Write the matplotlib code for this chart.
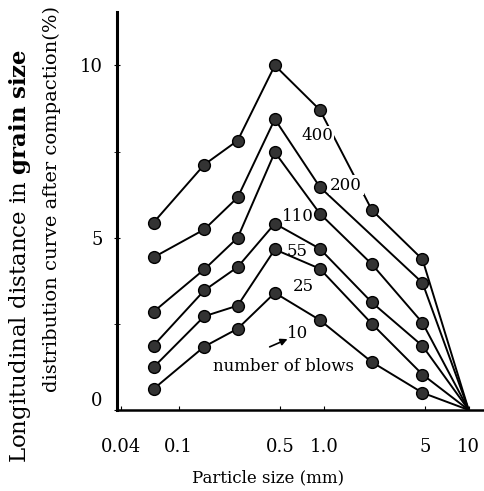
import numpy as np
import matplotlib
matplotlib.use("Agg")
import matplotlib.pyplot as plt

plt.rcParams['font.family'] = ['DejaVu Serif']
plt.rcParams['mathtext.fontset'] = 'custom'
plt.rcParams['mathtext.rm'] = 'DejaVu Serif'
plt.rcParams['mathtext.bf'] = 'DejaVu Serif:bold'

# particle sizes (mm) of the sieve columns
sizes = np.array([0.067, 0.15, 0.255, 0.46, 0.94, 2.15, 4.8, 10.0])

# longitudinal distance (%) for each number of blows
blows_400 = [5.44, 7.12, 7.82, 10.0, 8.71, 5.80, 4.37, 0.0]
blows_200 = [4.43, 5.24, 6.17, 8.44, 6.47, np.nan, 3.69, 0.0]
blows_110 = [2.85, 4.08, 5.00, 7.48, 5.70, 4.23, 2.53, 0.0]
blows_55 = [1.87, 3.47, 4.15, 5.41, 4.68, 3.12, 1.86, 0.0]
blows_25 = [1.24, 2.72, 3.03, 4.66, 4.10, 2.50, 1.03, 0.0]
blows_10 = [0.61, 1.84, 2.36, 3.40, 2.61, 1.39, 0.50, 0.0]

series = [blows_400, blows_200, blows_110, blows_55, blows_25, blows_10]

xticks = [0.04, 0.1, 0.5, 1.0, 5, 10]
xticklabels = ['0.04', '0.1', '0.5', '1.0', '5', '10']

fig = plt.figure(figsize=(4.84, 4.91), dpi=100)
ax = fig.add_axes([117/484, 1 - 410/491, 1 - 117/484, (410 - 12)/491])

for s in series:
    y = np.array(s, dtype=float)
    ok = ~np.isnan(y)
    xs, ys = sizes[ok], y[ok]
    ax.plot(xs, ys, color='black', lw=1.4, zorder=2)
    ax.plot(xs[:-1], ys[:-1], 'o', ms=8.5, mfc='#333333', mec='black',
            mew=1.0, zorder=3)

ax.set_xscale('log')
ax.set_xlim(0.0375, 12.75)
ax.set_ylim(0, 11.55)
ax.set_xticks(xticks)
ax.set_xticklabels(xticklabels)
ax.xaxis.set_minor_locator(matplotlib.ticker.NullLocator())
ax.set_yticks([0, 5, 10])
ax.set_yticks([2.5, 7.5], minor=True)

ax.tick_params(axis='x', direction='in', length=3, pad=20, labelsize=13)
ax.tick_params(axis='y', direction='inout', length=5, pad=8, labelsize=13)
ax.tick_params(axis='y', which='minor', direction='inout', length=4)
ax.get_yticklabels()[0].set_va('bottom')

for side in ['top', 'right']:
    ax.spines[side].set_visible(False)
ax.spines['left'].set_linewidth(2.2)
ax.spines['bottom'].set_linewidth(1.8)

# curve labels
lab = dict(fontsize=12, ha='center', va='center', zorder=4)
ax.text(0.90, 7.97, '400', bbox=dict(fc='white', ec='none', pad=1), **lab)
ax.text(1.43, 6.52, '200', bbox=dict(fc='white', ec='none', pad=1), **lab)
ax.text(0.665, 5.62, '110', **lab)
ax.text(0.655, 4.61, '55', **lab)
ax.text(0.72, 3.57, '25', **lab)
ax.text(0.665, 2.23, '10', **lab)
ax.text(0.525, 1.25, 'number of blows', **lab)
ax.annotate('', xy=(0.586, 2.09), xytext=(0.407, 1.80),
            arrowprops=dict(arrowstyle='-|>', color='black', lw=1.2,
                            mutation_scale=10))

fig.text(20/484, 1 - 256/491, r'Longitudinal distance in $\mathbf{grain\ size}$',
         rotation=90, ha='center', va='center', fontsize=16.5)
fig.text(52/484, 1 - 199/491, 'distribution curve after compaction(%)',
         rotation=90, ha='center', va='center', fontsize=14)
fig.text(268/484, 1 - 478/491, 'Particle size (mm)', ha='center',
         va='center', fontsize=12)

fig.savefig('out.png', dpi=100)
